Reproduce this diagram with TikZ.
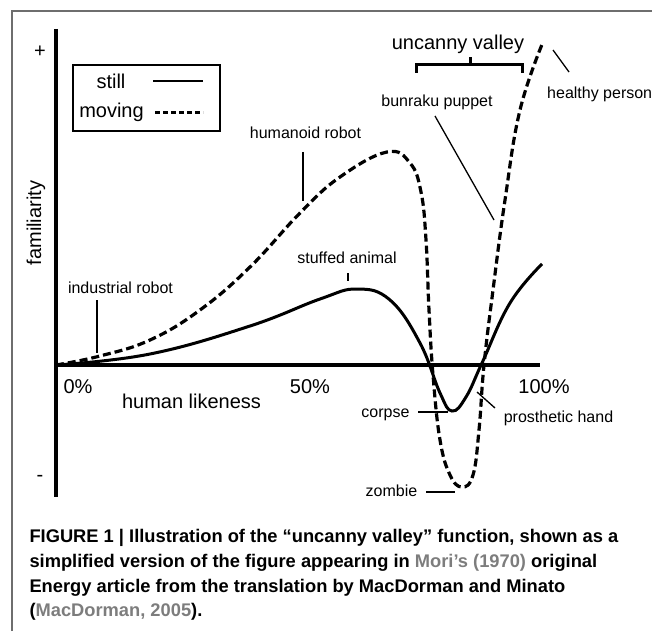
\documentclass[tikz,border=0pt]{standalone}
\usepackage{fontspec}
\setmainfont{Liberation Sans}
\definecolor{framegray}{RGB}{110,110,110}
\definecolor{citegray}{RGB}{125,125,125}
\newcommand{\bigtxt}{\fontsize{20}{24}\selectfont}
\newcommand{\smalltxt}{\fontsize{16}{19}\selectfont}
\newcommand{\captxt}{\fontsize{18.3}{24.7}\selectfont\bfseries}
\begin{document}
\begin{tikzpicture}[x=1pt, y=-1pt,
        axis/.style={line width=3.5pt},
        stillcurve/.style={line width=3pt},
        movingcurve/.style={line width=3.2pt, dash pattern=on 8pt off 4pt},
        lead/.style={line width=1.3pt},
        biglabel/.style={font=\bigtxt, inner sep=0pt, anchor=base},
        label/.style={font=\smalltxt, inner sep=0pt, anchor=base},
        capline/.style={font=\captxt, inner sep=0pt, anchor=base west}]
    \useasboundingbox (0,0) rectangle (652,631);
    % Frame
    \draw[framegray, line width=1.2pt] (12,631) -- (12,11) -- (652,11);
    % Axes
    \coordinate (ytop) at (56,29);
    \coordinate (ybot) at (56,497);
    \coordinate (xleft) at (54,365);
    \coordinate (xright) at (540,365);
    \draw[axis] (ytop) -- (ybot);
    \draw[axis] (xleft) -- (xright);
    \node[biglabel] (plus) at (40,58) {+};
    \node[biglabel] (minus) at (40,481) {-};
    \node[font=\bigtxt, inner sep=0pt, rotate=90] (famil) at (36,223) {familiarity};
    \node[biglabel] (zero) at (78,393) {0\%};
    \node[biglabel] (fifty) at (310,393) {50\%};
    \node[biglabel] (hundred) at (544,393) {100\%};
    \node[biglabel] (likeness) at (191.5,408) {human likeness};
    % Legend
    \node[draw, line width=2.5pt, minimum width=147pt, minimum height=66pt] (legend) at (146.5,98) {};
    \node[biglabel] (stilltxt) at (111,89) {still};
    \node[biglabel] (movingtxt) at (111.5,118) {moving};
    \coordinate (stillA) at (153,81);
    \coordinate (stillB) at (203,81);
    \coordinate (movingA) at (155,113);
    \coordinate (movingB) at (203,113);
    \draw[line width=1.5pt] (stillA) -- (stillB);
    \draw[line width=3pt, dash pattern=on 5pt off 3pt] (movingA) -- (movingB);
    % Curves
    \draw[stillcurve] plot[smooth, tension=0.7] coordinates {(56,365) (150,354) (250,326)
        (320,299) (357,289) (390,300) (420,343) (440,393) (452,411) (466,397) (482,363)
        (510,303) (542,264)};
    \draw[movingcurve] plot[smooth, tension=0.7] coordinates {(56,365) (100,356) (150,340)
        (200,310) (250,267) (300,213) (340,177) (387,152) (410,163) (421,192) (426,240)
        (429,310) (433,375) (440,440) (450,475) (462,487) (473,475) (479,430) (484,365)
        (493,290) (505,200) (520,110) (543,42)};
    % Uncanny valley bracket
    \node[biglabel] (valley) at (458,50) {uncanny valley};
    \draw[line width=3pt] (416,73) -- (416,65) -- (522,65) -- (522,73) (470,65) -- (470,57);
    % Labels
    \node[label] (industrial) at (120.5,293) {industrial robot};
    \node[label] (humanoid) at (305.5,139) {humanoid robot};
    \node[label] (stuffed) at (347,263) {stuffed animal};
    \node[label] (bunraku) at (437,107) {bunraku puppet};
    \node[label, anchor=base west] (healthy) at (547,99) {healthy person};
    \node[label] (corpse) at (385.5,417) {corpse};
    \node[label] (prosthetic) at (558.5,422) {prosthetic hand};
    \node[label] (zombie) at (391.5,496) {zombie};
    % Leader lines
    \coordinate (industrialA) at (97,300);
    \coordinate (industrialB) at (97,353);
    \coordinate (humanoidA) at (303,152);
    \coordinate (humanoidB) at (303,201);
    \coordinate (stuffedA) at (348,273);
    \coordinate (stuffedB) at (348,281);
    \coordinate (bunrakuA) at (435,116);
    \coordinate (bunrakuB) at (494,220);
    \coordinate (healthyA) at (553,50);
    \coordinate (healthyB) at (569,72);
    \coordinate (corpseA) at (418,412);
    \coordinate (corpseB) at (448,412);
    \coordinate (prostheticA) at (477,392);
    \coordinate (prostheticB) at (495,408);
    \coordinate (zombieA) at (426,492);
    \coordinate (zombieB) at (455,492);
    \draw[lead] (industrialA) -- (industrialB);
    \draw[lead] (humanoidA) -- (humanoidB);
    \draw[lead] (stuffedA) -- (stuffedB);
    \draw[lead] (bunrakuA) -- (bunrakuB);
    \draw[lead] (healthyA) -- (healthyB);
    \draw[lead] (corpseA) -- (corpseB);
    \draw[lead] (prostheticA) -- (prostheticB);
    \draw[lead] (zombieA) -- (zombieB);
    % Caption
    \node[capline] (cap1) at (29.3,542.7) {FIGURE 1 | Illustration of the “uncanny valley” function, shown as a};
    \node[capline] (cap2) at (29.3,567.4) {simplified version of the figure appearing in \textcolor{citegray}{Mori’s (1970)} original};
    \node[capline] (cap3) at (29.3,592.1) {Energy article from the translation by MacDorman and Minato};
    \node[capline] (cap4) at (29.3,616.8) {(\textcolor{citegray}{MacDorman, 2005}).};
\end{tikzpicture}
\end{document}
